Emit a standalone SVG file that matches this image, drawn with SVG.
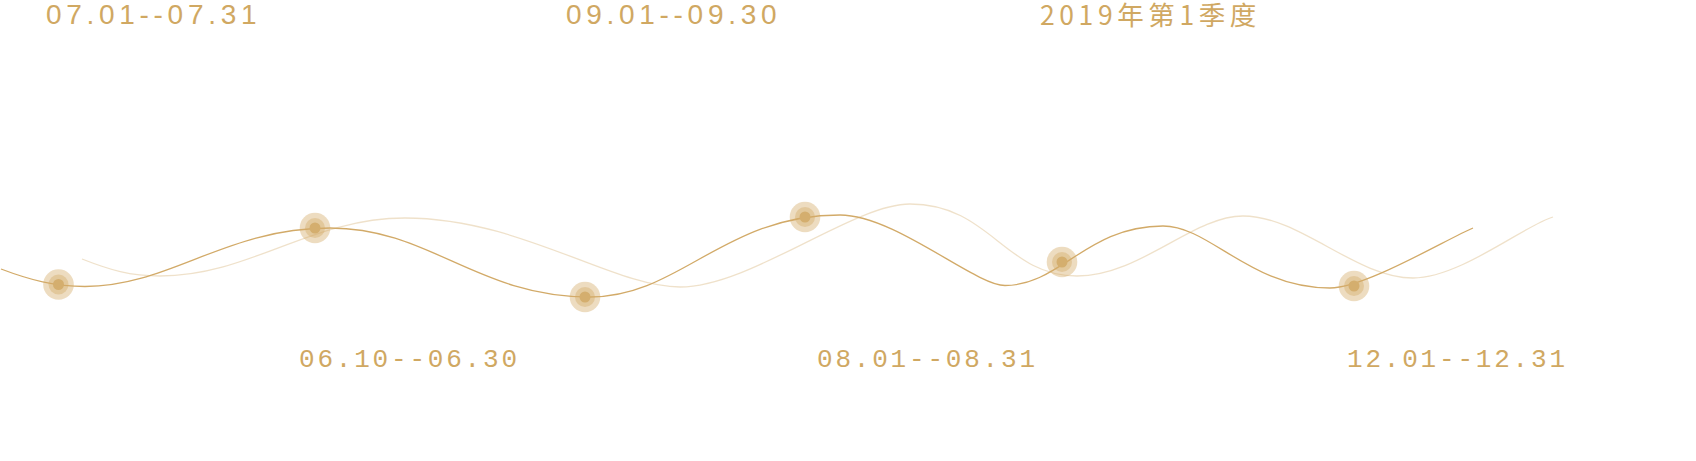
<svg xmlns="http://www.w3.org/2000/svg" width="1696" height="461" viewBox="0 0 1696 461">
<style>
.lbl{fill:#d0a862;font-family:"Liberation Sans","Noto Sans CJK SC",sans-serif;font-size:28px;letter-spacing:4.7px}
.cn{font-family:"Noto Sans CJK SC",sans-serif;font-size:26.5px;letter-spacing:4.6px}
.blbl{fill:#d0a862;font-family:"Liberation Mono",monospace;font-size:26px;letter-spacing:2.8px}
.main{fill:none;stroke:#d2aa68;stroke-width:1.3}
.light{fill:none;stroke:#d2aa68;stroke-opacity:0.35;stroke-width:1.3}
.o{fill:#d4ab6a;fill-opacity:0.42}
.i{fill:#d4ae6e}
</style>
<rect width="1696" height="461" fill="#ffffff"/>
<g id="connectors">
<path class="light" d="M82 259 C110 270 130 276 160 276 C250 276 310 218 405 218 C520 218 613 287 680 287 C750 287 853 204 910 204 C990 204 1005 276 1077 276 C1140 276 1193 216 1243 216 C1300 216 1356 278 1413 278 C1460 278 1525 225 1553 217"/>
<path class="main" d="M1 269 C30 280 55 286.5 85 286.5 C170 286.5 225 228 330 228 C430 228 477 297 590 297 C680 297 723 215 840 215 C895 215 975 285.5 1005 285.5 C1060 285.5 1087 226 1163 226 C1210 226 1250 288 1330 288 C1365 288 1445 240 1473 228"/>
</g>
<g id="dot1"><circle class="o" cx="58.5" cy="284.5" r="15.3"/><circle class="o" cx="58.5" cy="284.5" r="10"/><circle class="i" cx="58.5" cy="284.5" r="5.5"/></g>
<g id="dot2"><circle class="o" cx="315" cy="228" r="15.3"/><circle class="o" cx="315" cy="228" r="10"/><circle class="i" cx="315" cy="228" r="5.5"/></g>
<g id="dot3"><circle class="o" cx="585" cy="297" r="15.3"/><circle class="o" cx="585" cy="297" r="10"/><circle class="i" cx="585" cy="297" r="5.5"/></g>
<g id="dot4"><circle class="o" cx="805" cy="217" r="15.3"/><circle class="o" cx="805" cy="217" r="10"/><circle class="i" cx="805" cy="217" r="5.5"/></g>
<g id="dot5"><circle class="o" cx="1062" cy="262" r="15.3"/><circle class="o" cx="1062" cy="262" r="10"/><circle class="i" cx="1062" cy="262" r="5.5"/></g>
<g id="dot6"><circle class="o" cx="1354" cy="286" r="15.3"/><circle class="o" cx="1354" cy="286" r="10"/><circle class="i" cx="1354" cy="286" r="5.5"/></g>
<g id="label-top1"><text class="lbl" x="46" y="24">07.01--07.31</text></g>
<g id="label-top2"><text class="lbl" x="566" y="24">09.01--09.30</text></g>
<g id="label-top3"><text class="lbl cn" x="1040" y="25">2019年第1季度</text></g>
<g id="label-bot1"><text class="blbl" x="299" y="366.7">06.10--06.30</text></g>
<g id="label-bot2"><text class="blbl" x="817" y="366.7">08.01--08.31</text></g>
<g id="label-bot3"><text class="blbl" x="1347" y="366.7">12.01--12.31</text></g>
</svg>
